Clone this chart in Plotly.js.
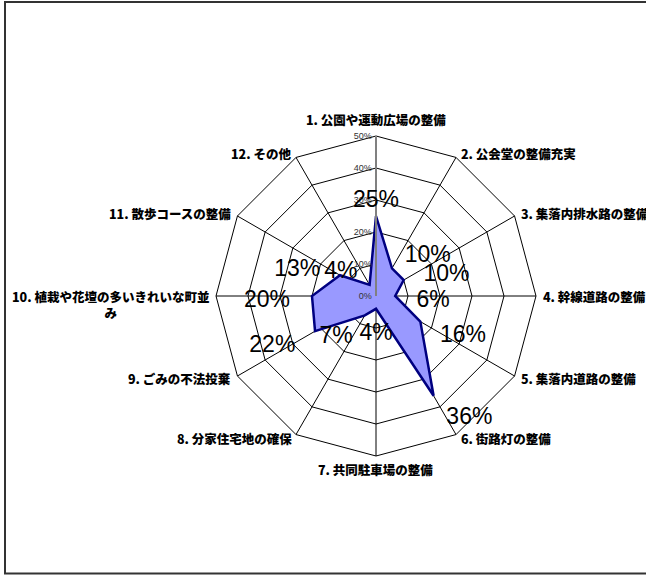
<!DOCTYPE html>
<html>
<head>
<meta charset="utf-8">
<script src="https://cdn.plot.ly/plotly-3.0.1.min.js"></script>
<style>html,body{margin:0;padding:0;background:#fff;}</style>
</head>
<body>
<div id="chart" style="width:646px;height:577px;"></div>
<script>
const categories = [
  "1. 公園や運動広場の整備",
  "2. 公会堂の整備充実",
  "3. 集落内排水路の整備",
  "4. 幹線道路の整備",
  "5. 集落内道路の整備",
  "6. 街路灯の整備",
  "7. 共同駐車場の整備",
  "8. 分家住宅地の確保",
  "9. ごみの不法投棄",
  "10. 植栽や花壇の多いきれいな町並<br>み",
  "11. 散歩コースの整備",
  "12. その他"
];
const values = [25, 10, 10, 6, 16, 36, 4, 7, 22, 20, 13, 4];
const radialTicks = [0, 10, 20, 30, 40, 50];

// geometry (pixels)
const W = 646, H = 577;
const CX = 376, CY = 296, R = 160, RMAX = 50;
const dom = {
  x: [(CX - R) / W, (CX + R) / W],
  y: [(H - CY - R) / H, (H - CY + R) / H]
};
const n = categories.length;
const ang = i => i * 2 * Math.PI / n;

// data label positions: offset outward from each point in pixel space
const labR = [], labT = [];
const labelText = values.map(v => v + '%');
values.forEach((v, i) => {
  const s = Math.sin(ang(i)), c = Math.cos(ang(i));
  const rp = v / RMAX * R;
  const px = rp * s, py = rp * c; // x right, y up
  const hw = labelText[i].length * 7;
  const dx = Math.abs(s) < 0.01 ? 0 : Math.sign(s) * (hw + 24 * Math.pow(Math.abs(s), 0.7));
  const dyDown = -20 * c + 2 + 3;
  const lx = px + dx, ly = py - dyDown;
  labR.push(Math.sqrt(lx * lx + ly * ly) / R * RMAX);
  labT.push(Math.atan2(lx, ly) * 180 / Math.PI);
});

// category label annotations around the outer polygon
const catFont = {family: '"Noto Sans CJK JP", sans-serif', size: 12.5, color: '#000', weight: 900};
const annotations = categories.map((t, i) => {
  const s = Math.sin(ang(i)), c = Math.cos(ang(i));
  const pad = c < -0.99 ? 2 : 5;
  const x = CX + (R + pad) * s, y = CY - (R + pad) * c;
  const lines = t.split('<br>').length;
  let xanchor = 'center', yanchor = 'middle';
  if (s > 0.01) xanchor = 'left'; else if (s < -0.01) xanchor = 'right';
  if (Math.abs(s) < 0.01) yanchor = c > 0 ? 'bottom' : 'top';
  return {
    xref: 'paper', yref: 'paper', x: x / W, y: 1 - y / H,
    xanchor: xanchor, yanchor: yanchor, yshift: -(lines - 1) * 8,
    text: t, showarrow: false, align: 'center', font: catFont
  };
});

const traces = [
  {
    type: 'scatterpolar',
    r: values.concat([values[0]]),
    theta: categories.concat([categories[0]]),
    mode: 'lines',
    fill: 'toself',
    fillcolor: '#9999FF',
    line: {color: '#000080', width: 2.5},
    hoverinfo: 'skip',
    subplot: 'polar'
  },
  {
    type: 'scatterpolar',
    r: labR,
    theta: labT,
    mode: 'text',
    text: labelText,
    textposition: 'middle center',
    cliponaxis: false,
    textfont: {family: '"Liberation Sans", Arial, sans-serif', size: 23, color: '#000'},
    hoverinfo: 'skip',
    subplot: 'polar2'
  }
];

const layout = {
  width: W, height: H,
  margin: {l: 0, r: 0, t: 0, b: 0},
  paper_bgcolor: '#fff',
  showlegend: false,
  polar: {
    domain: dom,
    bgcolor: '#fff',
    gridshape: 'linear',
    angularaxis: {
      type: 'category',
      direction: 'clockwise',
      rotation: 90,
      showline: true,
      linecolor: '#000',
      linewidth: 1,
      gridcolor: '#000',
      gridwidth: 1,
      ticks: '',
      showticklabels: false
    },
    radialaxis: {
      range: [0, RMAX],
      tickvals: radialTicks,
      ticktext: radialTicks.map(t => t + '%'),
      angle: 90,
      side: 'counterclockwise',
      showline: true,
      linecolor: '#808080',
      linewidth: 2,
      gridcolor: '#000',
      gridwidth: 1,
      ticks: '',
      tickangle: 90,
      tickfont: {family: '"Liberation Sans", Arial, sans-serif', size: 9, color: '#333'}
    }
  },
  polar2: {
    domain: dom,
    bgcolor: 'rgba(0,0,0,0)',
    angularaxis: {visible: false, direction: 'clockwise', rotation: 90, thetaunit: 'degrees', showgrid: false},
    radialaxis: {visible: false, range: [0, RMAX], showgrid: false}
  },
  annotations: annotations,
  shapes: [
    {type: 'rect', xref: 'paper', yref: 'paper',
     x0: 5 / W, x1: 1.05, y0: (H - 573.5) / H, y1: (H - 2) / H,
     line: {color: '#333', width: 2}, fillcolor: 'rgba(0,0,0,0)'}
  ]
};

Plotly.newPlot('chart', traces, layout, {displayModeBar: false, staticPlot: true});
</script>
</body>
</html>
